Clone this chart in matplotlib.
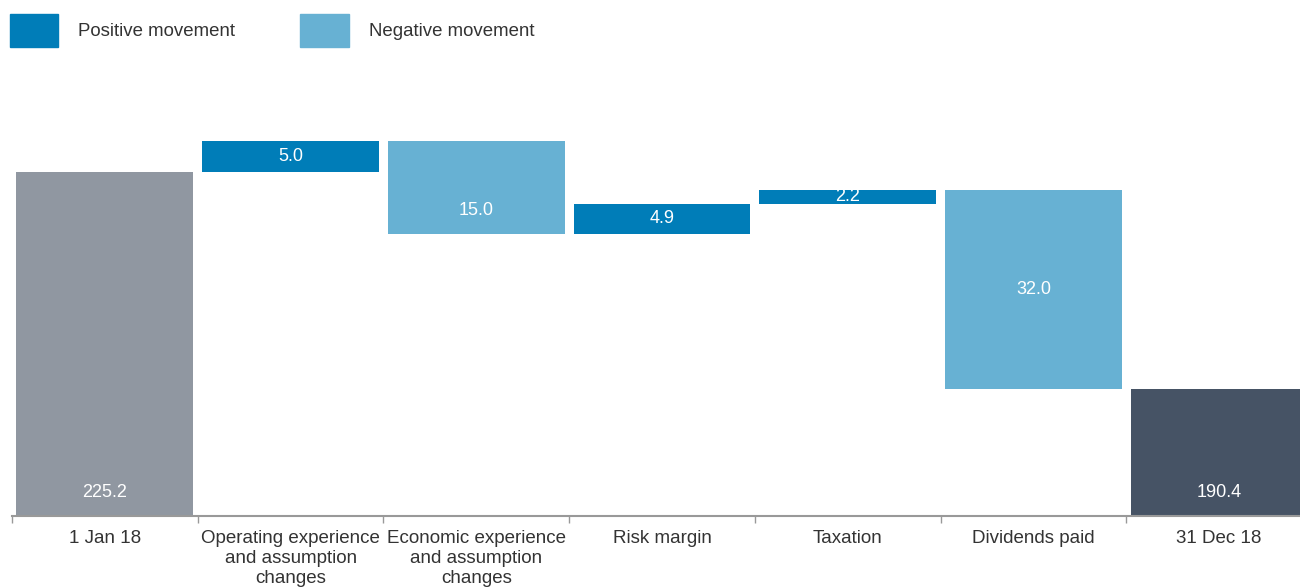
import numpy as np
import matplotlib.pyplot as plt
from matplotlib.patches import Patch

plt.rcParams['font.family'] = ['Liberation Sans', 'DejaVu Sans']

# data
categories = ['1 Jan 18', 'Operating experience\nand assumption\nchanges',
              'Economic experience\nand assumption\nchanges', 'Risk margin',
              'Taxation', 'Dividends paid', '31 Dec 18']
start_value = 225.2
movements = [5.0, -15.0, 4.9, 2.2, -32.0]
end_value = 190.4
labels = ['225.2', '5.0', '15.0', '4.9', '2.2', '32.0', '190.4']

c_pos = '#007DB8'
c_neg = '#67B1D3'
c_start = '#9097A1'
c_end = '#465365'
y_min, y_max = 170, 240

# build waterfall bottoms / heights
bottoms = [y_min]
heights = [start_value - y_min]
colors = [c_start]
level = start_value
for m in movements:
    if m >= 0:
        bottoms.append(level)
        heights.append(m)
        colors.append(c_pos)
    else:
        bottoms.append(level + m)
        heights.append(-m)
        colors.append(c_neg)
    level += m
bottoms.append(y_min)
heights.append(end_value - y_min)
colors.append(c_end)

fig = plt.figure(figsize=(13, 5.88), dpi=100)
ax = fig.add_axes([12/1300, 72/588, 1300/1300, 436.5/588])
x = np.arange(len(categories))
ax.bar(x, heights, bottom=bottoms, width=0.953, color=colors)

# value labels
for i, (b, h, lab) in enumerate(zip(bottoms, heights, labels)):
    if i in (0, len(categories) - 1):
        y = b + 3.7
    elif lab == '15.0':
        y = b + h * 0.25
    else:
        y = b + h / 2
    ax.text(i, y, lab, ha='center', va='center', color='white', fontsize=13)

ax.set_xlim(-0.5, len(categories) - 0.5)
ax.set_ylim(y_min, y_max)
ax.set_yticks([])
for s in ['top', 'right', 'left']:
    ax.spines[s].set_visible(False)
ax.spines['bottom'].set_color('#999999')
ax.spines['bottom'].set_linewidth(1.5)
ax.set_xticks(x - 0.5, minor=True)
ax.set_xticks(x)
ax.set_xticklabels(categories, fontsize=13.5, color='#333333', linespacing=1.25)
ax.tick_params(axis='x', which='major', length=0, pad=10)
ax.tick_params(axis='x', which='minor', length=5, color='#999999', width=1)

handles = [Patch(color=c_pos, label='Positive movement'),
           Patch(color=c_neg, label='Negative movement')]
fig.legend(handles=handles, loc='upper left',
           bbox_to_anchor=(-3/1300, 1 - 1/588),
           ncol=2, frameon=False, fontsize=13.4, handlelength=2.6,
           handleheight=2.33, handletextpad=1.07, columnspacing=3.5,
           labelcolor='#333333', borderaxespad=0.3)

fig.savefig('out.png')
